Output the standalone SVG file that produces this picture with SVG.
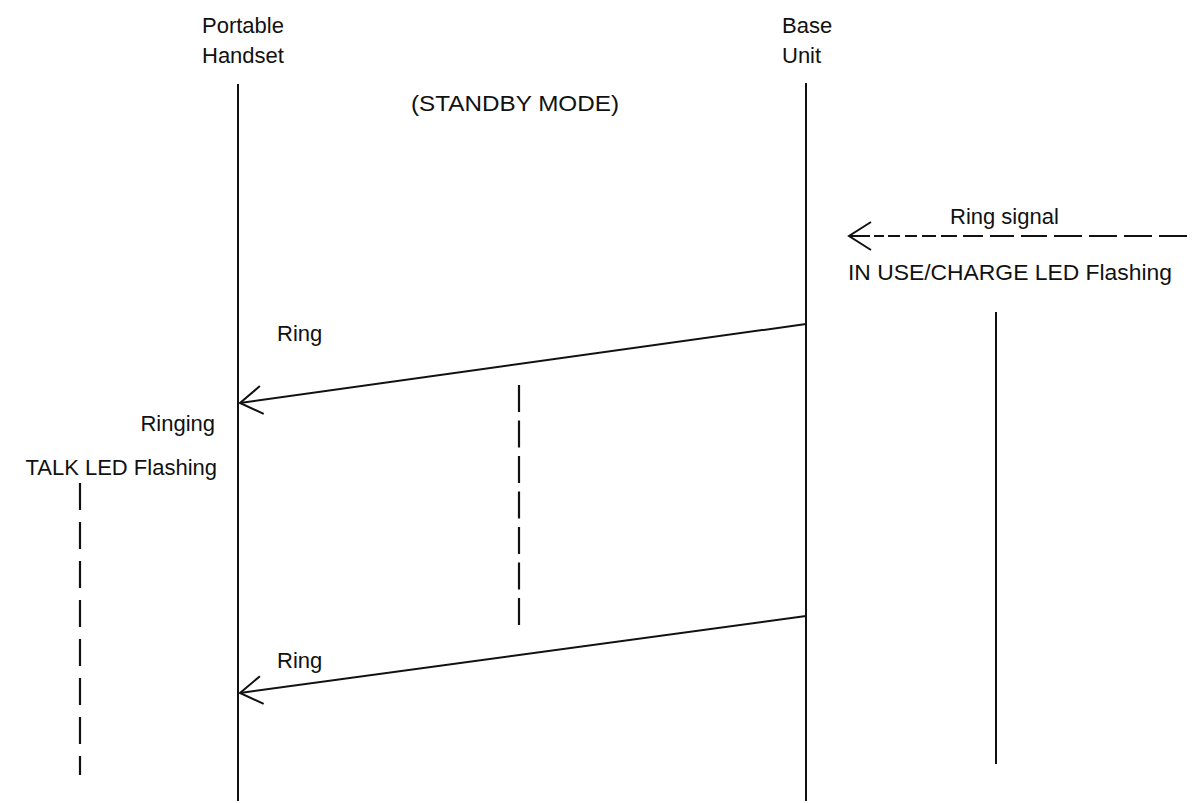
<svg xmlns="http://www.w3.org/2000/svg" width="1201" height="803" viewBox="0 0 1201 803">
<style>
text{font-family:"Liberation Sans",Arial,sans-serif;font-size:22px;fill:#111}
.ln{stroke:#111;stroke-width:2;fill:none}
.dash{stroke:#111;stroke-width:2.2;fill:none;stroke-dasharray:27 9}
</style>
<defs>
<marker id="open" markerUnits="userSpaceOnUse" markerWidth="40" markerHeight="40" refX="0" refY="0" viewBox="-30 -20 32 40" orient="auto" overflow="visible">
<path d="M-22,-14 L0,0 L-22,14" stroke="#111" stroke-width="2" fill="none"/>
</marker>
</defs>
<rect width="1201" height="803" fill="#fff"/>
<g id="handset">
<text x="202" y="33">Portable</text>
<text x="202" y="63">Handset</text>
<line class="ln" x1="238" y1="84" x2="238" y2="801"/>
</g>
<g id="base">
<text x="782" y="33">Base</text>
<text x="782" y="63">Unit</text>
<line class="ln" x1="806" y1="83" x2="806" y2="801"/>
</g>
<g id="standby">
<text x="411" y="111" textLength="208" lengthAdjust="spacingAndGlyphs">(STANDBY MODE)</text>
</g>
<g id="base-status">
<text x="848" y="280" textLength="324" lengthAdjust="spacingAndGlyphs">IN USE/CHARGE LED Flashing</text>
<line class="ln" x1="996" y1="312" x2="996" y2="764"/>
</g>
<g id="handset-status">
<text x="215" y="431" text-anchor="end">Ringing</text>
<text x="217" y="475" text-anchor="end">TALK LED Flashing</text>
<line class="dash" x1="80" y1="483" x2="80" y2="775" style="stroke-dasharray:27 12"/>
</g>
<g id="interval">
<line class="dash" x1="519" y1="385" x2="519" y2="626" style="stroke-dasharray:27 8.5"/>
</g>
<g id="connectors">
<line class="ln" x1="1187" y1="236" x2="849" y2="236" style="stroke-dasharray:28 7 28 7 28 7 28 7 26 7 24 7 20 6 16 5 14 5 12 5 12 4 10 4 30" marker-end="url(#open)"/>
<text x="950" y="224">Ring signal</text>
<line class="ln" x1="806" y1="324" x2="240" y2="403" marker-end="url(#open)"/>
<text x="277" y="341">Ring</text>
<line class="ln" x1="806" y1="616" x2="240" y2="693" marker-end="url(#open)"/>
<text x="277" y="668">Ring</text>
</g>
</svg>
